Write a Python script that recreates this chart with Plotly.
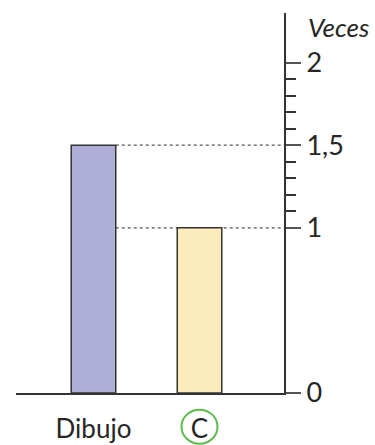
import plotly.graph_objects as go

categories = ["Dibujo", "C"]
values = [1.5, 1.0]
bar_colors = ["#aeaed6", "#fcecbb"]
y_tick_vals = [0, 1, 1.5, 2]
y_tick_text = ["0", "1", "1,5", "2"]
y_minor_vals = [1.1, 1.2, 1.3, 1.4, 1.6, 1.7, 1.8, 1.9]
axis_title = "Veces"

x_pos = list(range(len(categories)))
bar_w = 0.42
x_range = [-0.731, 1.797]
font_family = "Lato, 'Open Sans', sans-serif"
ink = "#262626"

fig = go.Figure()
fig.add_trace(go.Bar(
    x=x_pos, y=values, width=bar_w,
    marker=dict(color=bar_colors, line=dict(color="#333333", width=1.5)),
    hoverinfo="skip",
))

# dashed reference lines from first bar's right edge to axis
for v in values:
    fig.add_shape(type="line", xref="x", yref="y",
                  x0=x_pos[0] + bar_w / 2, x1=x_range[1], y0=v, y1=v,
                  line=dict(color="#555555", width=1.3, dash="3px,3px"),
                  layer="below")

# green circle around "C" label
fig.add_shape(type="circle", xref="x", yref="paper",
              xsizemode="pixel", ysizemode="pixel",
              xanchor=x_pos[1], yanchor=-0.0886,
              x0=-18, x1=18, y0=-17, y1=17,
              line=dict(color="#5dbb4c", width=2))

fig.add_annotation(text=axis_title, xref="paper", yref="paper",
                   x=1.082, y=0.963, xanchor="left", yanchor="middle",
                   showarrow=False,
                   font=dict(family=font_family, size=26, color=ink, style="italic"))

fig.update_layout(
    width=375, height=445,
    margin=dict(l=16, r=91, t=13, b=52),
    paper_bgcolor="white", plot_bgcolor="white",
    showlegend=False,
    font=dict(family=font_family, color=ink),
    xaxis=dict(
        range=x_range, tickmode="array", tickvals=x_pos, ticktext=categories,
        showline=True, linecolor="#333333", linewidth=2,
        showgrid=False, zeroline=False, ticks="",
        tickfont=dict(size=26, color=ink), ticklabelstandoff=12,
        automargin=False, fixedrange=True,
    ),
    yaxis=dict(
        range=[0, 2.3], side="right", tickmode="array",
        tickvals=y_tick_vals, ticktext=y_tick_text,
        showline=True, linecolor="#333333", linewidth=2,
        ticks="outside", ticklen=15, tickwidth=1.5, tickcolor="#555555",
        minor=dict(tickmode="array", tickvals=y_minor_vals, ticks="outside",
                   ticklen=10, tickwidth=1.5, tickcolor="#333333", showgrid=False),
        showgrid=False, zeroline=False,
        tickfont=dict(size=27, color=ink),
        automargin=False, fixedrange=True,
    ),
)

fig.write_html("out.html", config={"displayModeBar": False},
               post_script="document.body.style.margin='0';document.body.style.overflow='hidden';")
